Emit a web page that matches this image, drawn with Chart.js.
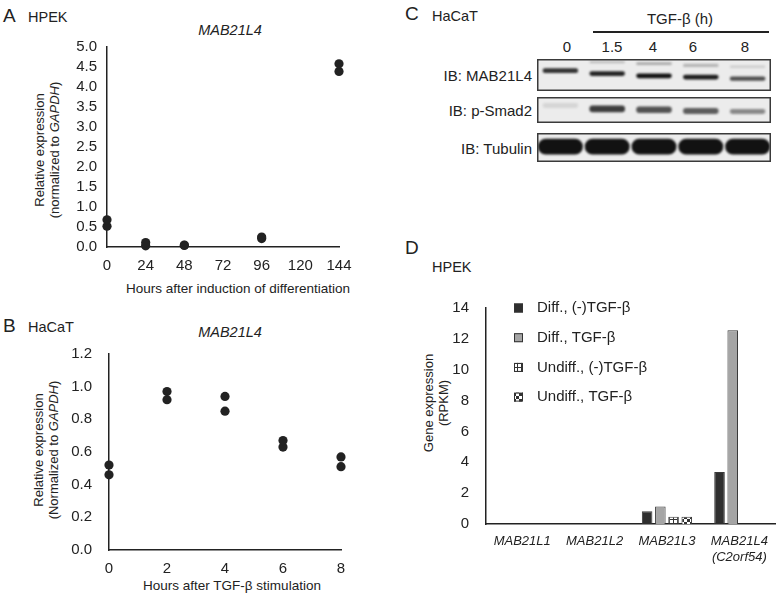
<!DOCTYPE html>
<html>
<head>
<meta charset="utf-8">
<script src="https://cdn.jsdelivr.net/npm/chart.js@4"></script>
<style>
  body { margin: 0; background: #fff; }
  #fig { position: relative; width: 778px; height: 596px; overflow: hidden; font-family: "Liberation Sans", Arial, sans-serif; color: #222; }
  #fig canvas { position: absolute; }
  .t { position: absolute; white-space: nowrap; line-height: 1; }
  .l { transform: translateY(-50%); }
  .c { transform: translate(-50%, -50%); }
  .r { transform: translate(-100%, -50%); }
  .v { transform: translate(-50%, -50%) rotate(-90deg); text-align: center; line-height: 14.5px; font-size: 13px; }
  .big { font-size: 19px; }
  .lab { font-size: 14.5px; }
</style>
</head>
<body>
<div id="fig">
  <!-- A -->
  <div class="t l big" style="left:3px;top:15px">A</div>
  <div class="t l lab" style="left:28px;top:17px">HPEK</div>
  <div class="t c lab" style="left:230px;top:30px;font-style:italic">MAB21L4</div>
  <div class="t v" style="left:47px;top:150px">Relative expression<br>(normalized to <i>GAPDH</i>)</div>
  <div class="t c" style="left:238px;top:289px;font-size:13.5px">Hours after induction of differentiation</div>
  <canvas id="chartA" width="390" height="300" style="left:0;top:0"></canvas>

  <!-- B -->
  <div class="t l big" style="left:3px;top:325px">B</div>
  <div class="t l lab" style="left:28px;top:327px">HaCaT</div>
  <div class="t c lab" style="left:230px;top:332px;font-style:italic">MAB21L4</div>
  <div class="t v" style="left:46px;top:450px">Relative expression<br>(Normalized to <i>GAPDH</i>)</div>
  <div class="t c" style="left:232px;top:586px;font-size:13.5px">Hours after TGF-β stimulation</div>
  <canvas id="chartB" width="390" height="306" style="left:0;top:290px"></canvas>

  <!-- C -->
  <div class="t l big" style="left:405px;top:13px">C</div>
  <div class="t l lab" style="left:432px;top:16px">HaCaT</div>
  <div class="t c" style="left:680px;top:18px;font-size:15px">TGF-β (h)</div>
  <div style="position:absolute;left:593px;top:31px;width:176px;height:1.5px;background:#222"></div>
  <div id="laneLabels"></div>
  <div class="t r" style="left:532px;top:75px;font-size:15px">IB: MAB21L4</div>
  <div class="t r" style="left:532px;top:110px;font-size:15px">IB: p-Smad2</div>
  <div class="t r" style="left:532px;top:148px;font-size:15px">IB: Tubulin</div>
  <canvas id="blotMab" width="234" height="32" style="left:537px;top:59px"></canvas>
  <canvas id="blotSmad" width="234" height="26" style="left:537px;top:97px"></canvas>
  <canvas id="blotTub" width="234" height="29" style="left:537px;top:133px"></canvas>

  <!-- D -->
  <div class="t l big" style="left:405px;top:247px">D</div>
  <div class="t l lab" style="left:432px;top:267px">HPEK</div>
  <div class="t v" style="left:436px;top:403px">Gene expression<br>(RPKM)</div>
  <canvas id="chartD" width="388" height="356" style="left:390px;top:240px"></canvas>
</div>

<script>
// A: HPEK, hours after induction of differentiation (two replicates)
const hoursA = [0, 24, 48, 96, 144];
const repA1 = [0.68, 0.11, 0.05, 0.25, 4.58];
const repA2 = [0.52, 0.03, 0.04, 0.21, 4.39];
const xTicksA = [0, 24, 48, 72, 96, 120, 144];
const yTicksA = [0, 0.5, 1, 1.5, 2, 2.5, 3, 3.5, 4, 4.5, 5];

// B: HaCaT, hours after TGF-b
const hoursB = [0, 2, 4, 6, 8];
const repB1 = [0.52, 0.97, 0.94, 0.67, 0.57];
const repB2 = [0.46, 0.92, 0.85, 0.63, 0.51];
const xTicksB = [0, 2, 4, 6, 8];
const yTicksB = [0, 0.2, 0.4, 0.6, 0.8, 1.0, 1.2];

// C: western blot lanes, band intensity (0-1) and band position in the strip (0 = top)
const lanes = ['0', '1.5', '4', '6', '8'];
const mabMain = [0.85, 0.92, 1.0, 0.95, 0.72];
const mabMainPos = [[0.29, 0.44], [0.38, 0.53], [0.45, 0.6], [0.49, 0.64], [0.55, 0.68]];
const mabUpper = [0, 0.22, 0.3, 0.25, 0.14];
const mabUpperPos = [null, [0.06, 0.13], [0.1, 0.19], [0.15, 0.25], [0.2, 0.28]];
const smad = [0.1, 0.8, 0.7, 0.66, 0.45];
const smadPos = [[0.23, 0.42], [0.33, 0.59], [0.37, 0.62], [0.42, 0.65], [0.46, 0.65]];
const tub = [1, 1, 1, 1, 1];
const tubPos = [[0.2, 0.74], [0.2, 0.74], [0.2, 0.74], [0.2, 0.74], [0.2, 0.74]];

// D: RNA-seq RPKM
const genes = ['MAB21L1', 'MAB21L2', 'MAB21L3', ['MAB21L4', '(C2orf54)']];
const seriesNames = ['Diff., (-)TGF-β', 'Diff., TGF-β', 'Undiff., (-)TGF-β', 'Undiff., TGF-β'];
const diffNoTgf = [0, 0, 0.82, 3.37];
const diffTgf = [0, 0, 1.14, 12.55];
const undiffNoTgf = [0, 0, 0.47, 0];
const undiffTgf = [0, 0, 0.47, 0];
const yTicksD = [0, 2, 4, 6, 8, 10, 12, 14];

const FONT = '"Liberation Sans", Arial, sans-serif';
Chart.defaults.font.family = FONT;
Chart.defaults.color = '#222';
Chart.defaults.animation = false;
Chart.defaults.plugins.legend.display = false;
Chart.defaults.plugins.tooltip.enabled = false;

const axisBase = { grid: { display: false, drawTicks: false }, border: { display: true, color: '#222', width: 1.5 } };

function scatterChart(id, xs, r1, r2, xTicks, yTicks, pad, yw, ypad) {
    const pts = r => xs.map((x, i) => ({ x: x, y: r[i] }));
    return new Chart(document.getElementById(id), {
        type: 'scatter',
        data: { datasets: [r1, r2].map(r => ({ data: pts(r), backgroundColor: '#222', borderWidth: 0, pointRadius: 4.6, clip: false })) },
        options: {
            responsive: false, layout: { padding: pad },
            scales: {
                x: { ...axisBase, type: 'linear', min: xTicks[0], max: xTicks[xTicks.length - 1],
                     afterBuildTicks: s => { s.ticks = xTicks.map(v => ({ value: v })); },
                     afterFit: s => { s.height = 30; },
                     ticks: { font: { size: 15 }, padding: 10, color: '#222', autoSkip: false, maxRotation: 0 } },
                y: { ...axisBase, min: yTicks[0], max: yTicks[yTicks.length - 1],
                     afterBuildTicks: s => { s.ticks = yTicks.map(v => ({ value: v })); },
                     afterFit: s => { s.width = yw; },
                     ticks: { font: { size: 15 }, padding: ypad, color: '#222', autoSkip: false, callback: v => Number(v).toFixed(1) } }
            }
        }
    });
}

scatterChart('chartA', hoursA, repA1, repA2, xTicksA, yTicksA, { left: 0, top: 47, right: 51, bottom: 23 }, 107, 10);
scatterChart('chartB', hoursB, repB1, repB2, xTicksB, yTicksB, { left: 0, top: 64, right: 49, bottom: 16 }, 109, 17);

// blot strips
const laneX = [567, 612, 653, 693, 745];
document.getElementById('laneLabels').innerHTML = lanes.map((l, i) =>
    `<div class="t c" style="left:${laneX[i]}px;top:46px;font-size:15px">${l}</div>`).join('');

const stripPlugin = {
    id: 'strip',
    beforeDraw(chart) { const { ctx, width, height } = chart; ctx.save(); ctx.fillStyle = '#ececec'; ctx.fillRect(0, 0, width, height); ctx.restore(); },
    beforeDatasetsDraw(chart) { chart.ctx.save(); chart.ctx.filter = 'blur(1.2px)'; },
    afterDatasetsDraw(chart) { chart.ctx.restore(); },
    afterDraw(chart) { const { ctx, width, height } = chart; ctx.save(); ctx.strokeStyle = '#3a3a3a'; ctx.lineWidth = 1.5; ctx.strokeRect(0.75, 0.75, width - 1.5, height - 1.5); ctx.restore(); }
};

function blot(id, bands, pct, radius) {
    return new Chart(document.getElementById(id), {
        type: 'bar',
        data: { labels: lanes, datasets: bands.map(b => ({
            data: b.pos, grouped: false, barPercentage: pct, categoryPercentage: 1,
            borderRadius: radius, borderSkipped: false, borderWidth: 0,
            backgroundColor: b.vals.map(v => `rgba(18,18,18,${v})`)
        })) },
        options: {
            responsive: false, layout: { padding: 0 },
            scales: { x: { display: false, offset: true }, y: { display: false, min: 0, max: 1, reverse: true } }
        },
        plugins: [stripPlugin]
    });
}

blot('blotMab', [{ vals: mabMain, pos: mabMainPos }, { vals: mabUpper, pos: mabUpperPos }], 0.76, 3);
blot('blotSmad', [{ vals: smad, pos: smadPos }], 0.76, 3);
blot('blotTub', [{ vals: tub, pos: tubPos }], 0.96, 8);

// D patterns
function tile(w, h, draw) {
    const c = document.createElement('canvas'); c.width = w; c.height = h;
    const g = c.getContext('2d'); g.fillStyle = '#fff'; g.fillRect(0, 0, w, h); g.fillStyle = '#333'; draw(g);
    return g.createPattern(c, 'repeat');
}
const gridFill = tile(4, 4, g => { g.fillRect(3, 0, 1, 4); g.fillRect(0, 3, 4, 1); });
const checkFill = tile(6, 6, g => { g.fillRect(0, 0, 3, 3); g.fillRect(3, 3, 3, 3); });

const insideLegend = {
    id: 'insideLegend',
    afterDraw(chart) {
        const { ctx, chartArea: a } = chart;
        ctx.save(); ctx.font = '15px ' + FONT; ctx.textBaseline = 'middle';
        chart.data.datasets.forEach((ds, i) => {
            const y = a.top + i * 29.7;
            ctx.fillStyle = ds.backgroundColor; ctx.fillRect(a.left + 28, y - 4.5, 9, 9);
            ctx.strokeStyle = '#333'; ctx.lineWidth = 1; ctx.strokeRect(a.left + 28.5, y - 4, 8, 8);
            ctx.fillStyle = '#222'; ctx.fillText(ds.label, a.left + 51, y);
        });
        ctx.restore();
    }
};

const fillsD = ['#2f2f2f', '#a5a5a5', gridFill, checkFill];
new Chart(document.getElementById('chartD'), {
    type: 'bar',
    data: { labels: genes, datasets: [diffNoTgf, diffTgf, undiffNoTgf, undiffTgf].map((d, i) => ({
        label: seriesNames[i], data: d, backgroundColor: fillsD[i], borderColor: '#3a3a3a', borderWidth: 1,
        barPercentage: 0.8, categoryPercentage: 0.73
    })) },
    options: {
        responsive: false, layout: { padding: { left: 0, top: 68, right: 1, bottom: 32 } },
        scales: {
            x: { ...axisBase, afterFit: s => { s.height = 40; },
                 ticks: { font: { size: 13, style: 'italic' }, padding: 10, color: '#222', autoSkip: false, maxRotation: 0 } },
            y: { ...axisBase, min: 0, max: 14,
                 afterBuildTicks: s => { s.ticks = yTicksD.map(v => ({ value: v })); },
                 afterFit: s => { s.width = 96; },
                 ticks: { font: { size: 15 }, padding: 17, color: '#222', autoSkip: false } }
        }
    },
    plugins: [insideLegend]
});
</script>
</body>
</html>
